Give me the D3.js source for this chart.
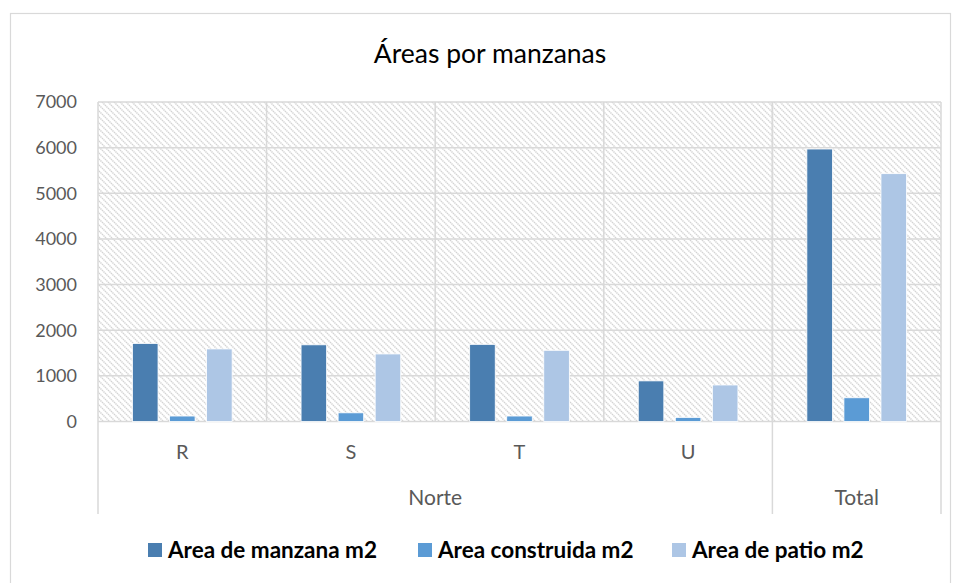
<!DOCTYPE html>
<html><head><meta charset="utf-8">
<script src="https://cdn.jsdelivr.net/npm/d3@7"></script>
<style>body{margin:0;background:#fff}svg{display:block}</style>
</head><body><svg id="c" width="960" height="583"></svg>
<script>
const categories = ["R", "S", "T", "U", "Total"];
const groups = [{name: "Norte", from: "R", to: "U"}, {name: "Total", from: "Total", to: "Total"}];
const seriesNames = ["Area de manzana m2", "Area construida m2", "Area de patio m2"];
const areaManzana = [1710, 1680, 1690, 890, 5970];
const areaConstruida = [120, 190, 120, 90, 520];
const areaPatio = [1590, 1480, 1560, 800, 5430];
const yTicks = [0, 1000, 2000, 3000, 4000, 5000, 6000, 7000];
const colors = ["#4a7eb0", "#5b9bd5", "#adc6e5"];
const title = "Áreas por manzanas";

(function () {
const seriesValues = [areaManzana, areaConstruida, areaPatio];
const svg = d3.select("#c");
const font = "Lato, 'Open Sans', sans-serif";
const pLeft = 98, pRight = 941, pTop = 102, pBottom = 421.5, axisBottom = 514;
const grid = "#d9d9d9";

svg.append("rect").attr("x", 10.5).attr("y", 13.5).attr("width", 940).attr("height", 600)
  .attr("fill", "#fff").attr("stroke", grid).attr("stroke-width", 1.2);

const defs = svg.append("defs");
const pat = defs.append("pattern").attr("id", "hatch").attr("patternUnits", "userSpaceOnUse")
  .attr("width", 6).attr("height", 6);
pat.append("rect").attr("width", 6).attr("height", 6).attr("fill", "#fff");
pat.append("path").attr("d", "M0,0L6,6M-1,5L1,7M5,-1L7,1")
  .attr("stroke", "#d3d3d3").attr("stroke-width", 1.5).attr("stroke-dasharray", "1.4,0.7");

const x = d3.scaleBand().domain(categories).range([pLeft, pRight]).padding(0);
const xs = d3.scaleBand().domain(seriesNames).range([0, x.bandwidth()]).paddingInner(0.31).paddingOuter(0.93);
const y = d3.scaleLinear().domain([0, 7000]).range([pBottom, pTop]);

svg.append("rect").attr("x", pLeft).attr("y", pTop).attr("width", pRight - pLeft).attr("height", pBottom - pTop)
  .attr("fill", "url(#hatch)");

svg.append("g").selectAll("line").data(yTicks).join("line")
  .attr("x1", pLeft).attr("x2", pRight).attr("y1", d => y(d)).attr("y2", d => y(d))
  .attr("stroke", grid).attr("stroke-width", 1.5);

svg.append("g").selectAll("line").data(categories.slice(1)).join("line")
  .attr("x1", d => x(d)).attr("x2", d => x(d)).attr("y1", pTop).attr("y2", pBottom)
  .attr("stroke", grid).attr("stroke-width", 1.5);

const sepXs = [pLeft, x("Total"), pRight];
svg.append("g").selectAll("line").data(sepXs).join("line")
  .attr("x1", d => d).attr("x2", d => d).attr("y1", pTop).attr("y2", axisBottom)
  .attr("stroke", grid).attr("stroke-width", 1.5);

seriesNames.forEach((s, si) => {
  svg.append("g").selectAll("rect").data(categories).join("rect")
    .attr("x", c => x(c) + xs(s))
    .attr("width", xs.bandwidth())
    .attr("y", (c, i) => y(seriesValues[si][i]))
    .attr("height", (c, i) => pBottom - y(seriesValues[si][i]))
    .attr("fill", colors[si]).attr("stroke", "#fff").attr("stroke-width", 0.8);
});

svg.append("g").selectAll("text").data(yTicks).join("text")
  .attr("x", 77).attr("y", d => y(d)).attr("dy", "0.35em").attr("text-anchor", "end")
  .attr("font-family", font).attr("font-size", 18).attr("fill", "#595959").text(d => d);

svg.append("g").selectAll("text").data(categories.filter(c => c !== "Total")).join("text")
  .attr("x", c => x(c) + x.bandwidth() / 2).attr("y", 459).attr("text-anchor", "middle")
  .attr("font-family", font).attr("font-size", 20).attr("fill", "#595959").text(c => c);

svg.append("g").selectAll("text").data(groups).join("text")
  .attr("x", g => (x(g.from) + x(g.to) + x.bandwidth()) / 2).attr("y", 505).attr("text-anchor", "middle")
  .attr("font-family", font).attr("font-size", 21).attr("fill", "#595959").text(g => g.name);

svg.append("text").attr("x", 490).attr("y", 63).attr("text-anchor", "middle")
  .attr("font-family", font).attr("font-size", 26.5).attr("fill", "#000").text(title);

const legendX = [148, 418, 672];
const lg = svg.append("g").selectAll("g").data(seriesNames).join("g")
  .attr("transform", (d, i) => `translate(${legendX[i]},543)`);
lg.append("rect").attr("width", 14).attr("height", 14).attr("fill", (d, i) => colors[i]);
lg.append("text").attr("x", 20).attr("y", 7).attr("dy", "0.36em")
  .attr("font-family", font).attr("font-size", 22.5).attr("font-weight", "bold").attr("fill", "#000").text(d => d);
})();
</script></body></html>
